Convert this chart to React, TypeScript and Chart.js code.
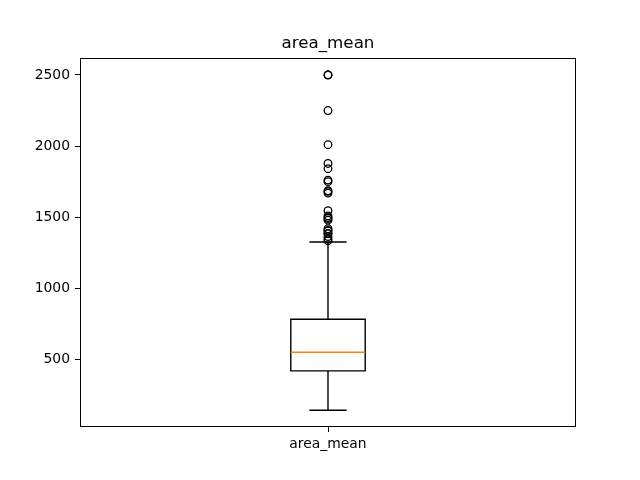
import React, { useEffect, useRef } from "react";
import { Chart, registerables } from "chart.js";

Chart.register(...registerables);

const categories = ["area_mean"];
const position = [1];
const whiskerLow = [143.5];
const q1 = [420.3];
const median = [551.1];
const q3 = [782.7];
const whiskerHigh = [1326.0];
const outliers = [
  2501, 2499, 2250, 2010, 1878, 1841, 1761, 1750, 1686, 1682, 1670, 1546,
  1509, 1498, 1491, 1479, 1419, 1407, 1404, 1386, 1384, 1364, 1347, 1335,
];
const yTicks = [500, 1000, 1500, 2000, 2500];
const yMin = 25.6;
const yMax = 2618.9;

const FONT = "'DejaVu Sans', sans-serif";

const boxPlugin = {
  id: "boxDraw",
  afterDatasetsDraw(chart: any) {
    const { ctx, scales, chartArea } = chart;
    const xs = scales.x;
    const ys = scales.y;
    const boxW = 0.15;
    ctx.save();
    position.forEach((p, i) => {
      const xl = xs.getPixelForValue(p - boxW / 2);
      const xr = xs.getPixelForValue(p + boxW / 2);
      const xc = xs.getPixelForValue(p);
      const cl = xs.getPixelForValue(p - boxW / 4);
      const cr = xs.getPixelForValue(p + boxW / 4);
      const yq1 = ys.getPixelForValue(q1[i]);
      const yq3 = ys.getPixelForValue(q3[i]);
      const ymed = ys.getPixelForValue(median[i]);
      const ylo = ys.getPixelForValue(whiskerLow[i]);
      const yhi = ys.getPixelForValue(whiskerHigh[i]);
      ctx.strokeStyle = "#000";
      ctx.lineWidth = 1.4;
      ctx.beginPath();
      ctx.rect(xl, yq3, xr - xl, yq1 - yq3);
      ctx.moveTo(xc, yq1);
      ctx.lineTo(xc, ylo);
      ctx.moveTo(xc, yq3);
      ctx.lineTo(xc, yhi);
      ctx.moveTo(cl, ylo);
      ctx.lineTo(cr, ylo);
      ctx.moveTo(cl, yhi);
      ctx.lineTo(cr, yhi);
      ctx.stroke();
      ctx.strokeStyle = "#ff7f0e";
      ctx.beginPath();
      ctx.moveTo(xl, ymed);
      ctx.lineTo(xr, ymed);
      ctx.stroke();
    });
    ctx.strokeStyle = "#000";
    ctx.lineWidth = 1;
    const l = Math.round(chartArea.left) + 0.5;
    const t = Math.round(chartArea.top) + 0.5;
    const r = Math.round(chartArea.right) - 0.5;
    const b = Math.round(chartArea.bottom) - 0.5;
    ctx.strokeRect(l, t, r - l, b - t);
    ctx.restore();
  },
};

export default function App() {
  const ref = useRef<HTMLCanvasElement>(null);
  useEffect(() => {
    if (!ref.current) return;
    const chart = new Chart(ref.current, {
      type: "scatter",
      data: {
        datasets: [
          {
            data: outliers.map((v) => ({ x: position[0], y: v })),
            pointStyle: "circle",
            pointRadius: 3.8,
            pointBorderWidth: 1.3,
            borderColor: "#000",
            backgroundColor: "rgba(0,0,0,0)",
            pointHoverRadius: 3.8,
          },
        ],
      },
      options: {
        animation: false,
        responsive: false,
        layout: { padding: { left: 0, right: 64, top: 0, bottom: 0 } },
        plugins: {
          legend: { display: false },
          tooltip: { enabled: false },
          title: {
            display: true,
            fullSize: false,
            text: "area_mean",
            color: "#000",
            font: { family: FONT, size: 16.7, weight: "normal" },
            padding: { top: 34, bottom: 4 },
          },
        },
        scales: {
          x: {
            type: "linear",
            min: 0.5,
            max: 1.5,
            afterBuildTicks: (s: any) => {
              s.ticks = position.map((v) => ({ value: v }));
            },
            afterFit: (s: any) => {
              s.height = 53;
            },
            ticks: {
              color: "#000",
              font: { family: FONT, size: 13.9 },
              padding: 4,
              maxRotation: 0,
              callback: (_v: any, i: number) => categories[i],
            },
            grid: {
              display: true,
              drawOnChartArea: false,
              drawTicks: true,
              tickLength: 5,
              color: "#000",
            },
            border: { display: false },
          },
          y: {
            type: "linear",
            min: yMin,
            max: yMax,
            afterBuildTicks: (s: any) => {
              s.ticks = yTicks.map((v) => ({ value: v }));
            },
            afterFit: (s: any) => {
              s.width = 80;
            },
            ticks: {
              color: "#000",
              font: { family: FONT, size: 13.9 },
              padding: 5,
              callback: (v: any) => String(v),
            },
            grid: {
              display: true,
              drawOnChartArea: false,
              drawTicks: true,
              tickLength: 5,
              color: "#000",
            },
            border: { display: false },
          },
        },
      },
      plugins: [boxPlugin],
    });
    return () => chart.destroy();
  }, []);
  return (
    <div style={{ position: "absolute", left: 0, top: 0, width: 640, height: 480, background: "#fff" }}>
      <canvas ref={ref} width={640} height={480} style={{ display: "block" }} />
    </div>
  );
}
